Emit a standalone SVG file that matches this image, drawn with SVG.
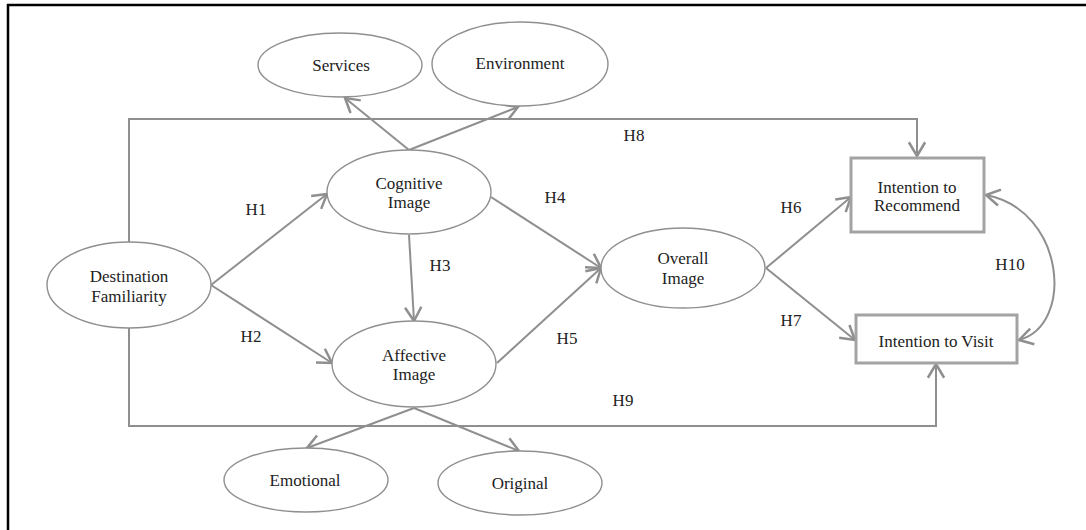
<svg xmlns="http://www.w3.org/2000/svg" width="1086" height="530" viewBox="0 0 1086 530">
<style>
.node ellipse{fill:#fff;stroke:#8f8f8f;stroke-width:1.4}
.node rect{fill:#fff;stroke:#a3a3a3;stroke-width:3}
text{font-family:'Liberation Serif','Times New Roman','DejaVu Serif',serif;font-size:17px;fill:#222;text-anchor:middle;dominant-baseline:central}
.conn path,.conn line,.conn polyline{fill:none;stroke:#8f8f8f;stroke-width:2}
</style>
<defs>
<marker id="arr" markerUnits="userSpaceOnUse" markerWidth="20" markerHeight="20" viewBox="-12 -8 14 16" refX="0" refY="0" orient="auto-start-reverse">
<path d="M -11 -6.5 L 0 0 L -11 6.5" fill="none" stroke="#8f8f8f" stroke-width="2"/>
</marker>
</defs>
<rect width="1086" height="530" fill="#fff"/>
<g id="frame" stroke="#000" stroke-width="2.5" fill="none">
<line x1="7" y1="5" x2="1086" y2="5"/>
<line x1="8" y1="4" x2="8" y2="530"/>
</g>
<g id="connectors" class="conn">
<polyline points="129,243 129,119 917,119 917,156" marker-end="url(#arr)"/>
<polyline points="129,328 129,426 936,426 936,364" marker-end="url(#arr)"/>
<line x1="211" y1="285" x2="327" y2="194" marker-end="url(#arr)"/>
<line x1="211" y1="285" x2="332" y2="363" marker-end="url(#arr)"/>
<line x1="409" y1="235" x2="414" y2="321" marker-end="url(#arr)"/>
<line x1="491" y1="197" x2="601" y2="268" marker-end="url(#arr)"/>
<line x1="497" y1="363" x2="601" y2="268" marker-end="url(#arr)"/>
<line x1="766" y1="268" x2="851" y2="197" marker-end="url(#arr)"/>
<line x1="766" y1="268" x2="855" y2="340" marker-end="url(#arr)"/>
<line x1="409" y1="150" x2="345" y2="98" marker-end="url(#arr)"/>
<line x1="409" y1="150" x2="518" y2="107" marker-end="url(#arr)"/>
<line x1="414" y1="408" x2="307" y2="448" marker-end="url(#arr)"/>
<line x1="414" y1="408" x2="519" y2="451" marker-end="url(#arr)"/>
<path d="M 986 195 C 1065 210, 1075 325, 1019 340" marker-start="url(#arr)" marker-end="url(#arr)"/>
<text x="256" y="209">H1</text>
<text x="251" y="336">H2</text>
<text x="440" y="265">H3</text>
<text x="555" y="197">H4</text>
<text x="567" y="338">H5</text>
<text x="791" y="207">H6</text>
<text x="791" y="320">H7</text>
<text x="634" y="135">H8</text>
<text x="623" y="400">H9</text>
<text x="1010" y="264">H10</text>
</g>
<g id="services" class="node"><ellipse cx="340" cy="65" rx="82" ry="32"/><text x="341" y="65">Services</text></g>
<g id="environment" class="node"><ellipse cx="520" cy="64" rx="88" ry="42"/><text x="520" y="63">Environment</text></g>
<g id="cognitive" class="node"><ellipse cx="409" cy="192" rx="82" ry="42"/><text x="409" y="183">Cognitive</text><text x="409" y="202">Image</text></g>
<g id="familiarity" class="node"><ellipse cx="129" cy="285" rx="82" ry="43"/><text x="129" y="276">Destination</text><text x="129" y="296">Familiarity</text></g>
<g id="affective" class="node"><ellipse cx="414" cy="364" rx="82" ry="43"/><text x="414" y="355">Affective</text><text x="414" y="374">Image</text></g>
<g id="overall" class="node"><ellipse cx="683" cy="268" rx="82" ry="40"/><text x="683" y="258">Overall</text><text x="683" y="278">Image</text></g>
<g id="recommend" class="node"><rect x="851" y="158" width="133" height="74"/><text x="917" y="187">Intention to</text><text x="917" y="205">Recommend</text></g>
<g id="visit" class="node"><rect x="856" y="315" width="161" height="48"/><text x="936" y="341">Intention to Visit</text></g>
<g id="emotional" class="node"><ellipse cx="306" cy="480" rx="82" ry="32"/><text x="305" y="480">Emotional</text></g>
<g id="original" class="node"><ellipse cx="520" cy="483" rx="82" ry="32"/><text x="520" y="483">Original</text></g>
</svg>
